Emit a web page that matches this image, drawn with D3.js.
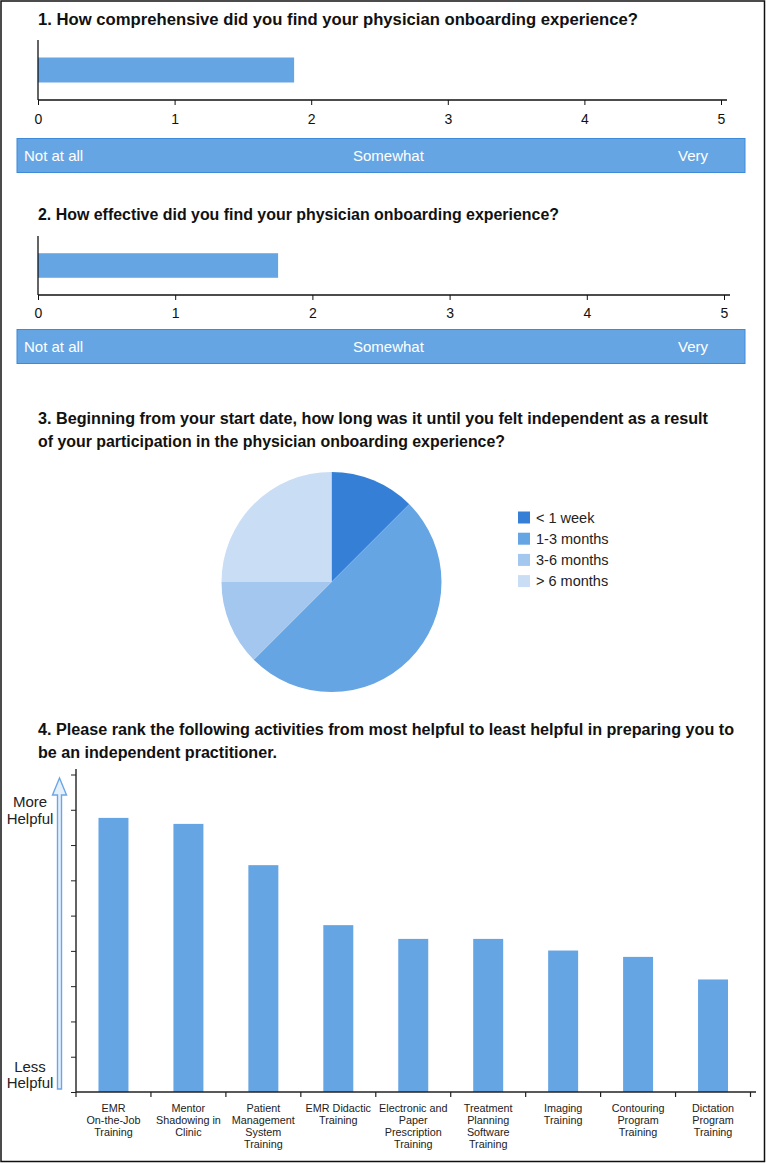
<!DOCTYPE html>
<html><head><meta charset="utf-8">
<script src="https://cdn.jsdelivr.net/npm/d3@7"></script>
<style>
html,body{margin:0;padding:0;background:#fff;}
svg{display:block;}
</style></head>
<body>
<svg id="c" width="766" height="1163"></svg>
<script>
// ---------- DATA ----------
const q1Title = "1. How comprehensive did you find your physician onboarding experience?";
const q1Value = [1.875];
const q2Title = "2. How effective did you find your physician onboarding experience?";
const q2Value = [1.75];
const scaleTicks = [0, 1, 2, 3, 4, 5];
const scaleLabels = ["Not at all", "Somewhat", "Very"];

const q3TitleLines = ["3. Beginning from your start date, how long was it until you felt independent as a result",
                      "of your participation in the physician onboarding experience?"];
const pieCategories = ["< 1 week", "1-3 months", "3-6 months", "> 6 months"];
const pieValues = [1, 4, 1, 2];
const pieColors = ["#3580d6", "#66a5e3", "#a3c7ef", "#c9ddf5"];

const q4TitleLines = ["4. Please rank the following activities from most helpful to least helpful in preparing you to",
                      "be an independent practitioner."];
const activities = [
  ["EMR", "On-the-Job", "Training"],
  ["Mentor", "Shadowing in", "Clinic"],
  ["Patient", "Management", "System", "Training"],
  ["EMR Didactic", "Training"],
  ["Electronic and", "Paper", "Prescription", "Training"],
  ["Treatment", "Planning", "Software", "Training"],
  ["Imaging", "Training"],
  ["Contouring", "Program", "Training"],
  ["Dictation", "Program", "Training"]
];
const activityScores = [7.77, 7.60, 6.43, 4.73, 4.34, 4.34, 4.01, 3.83, 3.19];
const rankTicks = [0, 1, 2, 3, 4, 5, 6, 7, 8, 9];

// ---------- DRAW ----------
const svg = d3.select("#c");
const BAR = "#66a5e3";
const TITLE_FONT = "'Liberation Sans Narrow','Arial Narrow','Liberation Sans',Arial,sans-serif";
const FONT = "'Liberation Sans',Arial,Helvetica,sans-serif";

// frame
svg.append("rect").attr("x", 1).attr("y", 1).attr("width", 763.5).attr("height", 1160.5)
  .attr("fill", "none").attr("stroke", "#111").attr("stroke-width", 1.5);

function title(lines, x, y0, widths, lh) {
  lines.forEach((t, i) => {
    svg.append("text").attr("x", x).attr("y", y0 + i * lh)
      .attr("font-family", TITLE_FONT).attr("font-weight", "bold").attr("font-size", 16)
      .attr("fill", "#111")
      .attr("textLength", widths[i]).attr("lengthAdjust", "spacingAndGlyphs")
      .text(t);
  });
}

function scaleChart(cfg) {
  const x = d3.scaleLinear().domain([0, 5]).range([38, cfg.x5]);
  const y = d3.scaleBand().domain(["v"]).range([cfg.top, cfg.axisY]).padding(0.412);
  const g = svg.append("g");
  g.append("rect").attr("x", x(0)).attr("y", y("v")).attr("width", x(cfg.value[0]) - x(0))
    .attr("height", y.bandwidth()).attr("fill", BAR);
  // vertical axis
  g.append("line").attr("x1", 38).attr("x2", 38).attr("y1", cfg.top).attr("y2", cfg.axisY)
    .attr("stroke", "#111").attr("stroke-width", 1.3);
  const ax = g.append("g").attr("transform", `translate(0,${cfg.axisY})`)
    .call(d3.axisBottom(x).tickValues(scaleTicks).tickFormat(d3.format("d")).tickSize(5).tickSizeOuter(0));
  ax.select(".domain").attr("d", `M38,0H${cfg.x5 + 6}`).attr("stroke", "#111").attr("stroke-width", 1.6);
  ax.selectAll(".tick line").attr("stroke", "#111");
  ax.selectAll(".tick text").attr("font-family", FONT).attr("font-size", 14).attr("fill", "#111")
    .attr("y", cfg.labelY - cfg.axisY).attr("dy", "0.36em");
  // band
  g.append("rect").attr("x", 17).attr("y", cfg.bandY).attr("width", 728).attr("height", 34)
    .attr("fill", BAR).attr("stroke", "#3d8ad9").attr("stroke-width", 1);
  const lx = [24, 353, 678];
  scaleLabels.forEach((t, i) => {
    g.append("text").attr("x", lx[i]).attr("y", cfg.bandY + 17).attr("dy", "0.35em")
      .attr("font-family", FONT).attr("font-size", 15).attr("fill", "#fff").text(t);
  });
}

title([q1Title], 38, 25, [600], 23);
scaleChart({ value: q1Value, top: 40, axisY: 100, x5: 721, labelY: 119, bandY: 138.5 });

title([q2Title], 38, 220, [521], 23);
scaleChart({ value: q2Value, top: 236, axisY: 295, x5: 724, labelY: 313, bandY: 329.5 });

// ---- pie ----
title(q3TitleLines, 38, 424, [670, 467], 23);
const pieG = svg.append("g").attr("transform", "translate(331.5,582)");
const color = d3.scaleOrdinal().domain(pieCategories).range(pieColors);
const pie = d3.pie().sort(null).value(d => d.v);
const arc = d3.arc().innerRadius(0).outerRadius(110);
const pieData = pie(pieCategories.map((c, i) => ({ c, v: pieValues[i] })));
pieG.selectAll("path").data(pieData).join("path")
  .attr("d", arc).attr("fill", d => color(d.data.c));
const legend = svg.append("g");
pieCategories.forEach((c, i) => {
  const cy = 517.5 + i * 21.2;
  legend.append("rect").attr("x", 518).attr("y", cy - 6).attr("width", 12).attr("height", 12).attr("fill", color(c));
  legend.append("text").attr("x", 536).attr("y", cy).attr("dy", "0.35em")
    .attr("font-family", FONT).attr("font-size", 14.5).attr("fill", "#222").text(c);
});

// ---- ranking bar chart ----
title(q4TitleLines, 38, 735, [696, 239], 23);
const x4 = d3.scaleBand().domain(activities.map(a => a.join(" "))).range([76, 750.5]).paddingInner(0.6).paddingOuter(0.3);
const y4 = d3.scaleLinear().domain([0, 9]).range([1092, 774.5]);
const g4 = svg.append("g");
g4.selectAll("rect.bar").data(activityScores).join("rect").attr("class", "bar")
  .attr("x", (d, i) => x4(activities[i].join(" ")))
  .attr("width", x4.bandwidth())
  .attr("y", d => y4(d)).attr("height", d => y4(0) - y4(d)).attr("fill", BAR);
// y axis
const ay = g4.append("g").attr("transform", "translate(76,0)")
  .call(d3.axisLeft(y4).tickValues(rankTicks).tickSize(5).tickSizeOuter(0).tickFormat(""));
ay.select(".domain").attr("d", "M0,769V1092").attr("stroke", "#222").attr("stroke-width", 1.4);
ay.selectAll(".tick line").attr("stroke", "#222");
// x axis with ticks at band boundaries
g4.append("line").attr("x1", 76).attr("x2", 756).attr("y1", 1092).attr("y2", 1092).attr("stroke", "#222").attr("stroke-width", 1.4);
const bx = activities.map((a, i) => x4(a.join(" ")) + x4.bandwidth() / 2 - x4.step() / 2);
bx.push(x4(activities[activities.length - 1].join(" ")) + x4.bandwidth() / 2 + x4.step() / 2);
bx.forEach(v => g4.append("line").attr("x1", v).attr("x2", v).attr("y1", 1092).attr("y2", 1097).attr("stroke", "#222").attr("stroke-width", 1.2));
activities.forEach((lines, i) => {
  const cx = x4(lines.join(" ")) + x4.bandwidth() / 2;
  const t = g4.append("text").attr("text-anchor", "middle").attr("font-family", FONT).attr("font-size", 10.8).attr("fill", "#222");
  lines.forEach((l, j) => t.append("tspan").attr("x", cx).attr("y", 1112 + j * 12).text(l));
});
// arrow
g4.append("path")
  .attr("d", "M59.5,778 L66.5,795 L61.5,795 L61.5,1089 L57.5,1089 L57.5,795 L52.5,795 Z")
  .attr("fill", "#e6f0fb").attr("stroke", "#6aa6e6").attr("stroke-width", 1.4).attr("stroke-linejoin", "miter");
const lab = [["More", 806.5], ["Helpful", 823.5], ["Less", 1071.5], ["Helpful", 1088]];
lab.forEach(([t, y]) => g4.append("text").attr("x", 30).attr("y", y).attr("text-anchor", "middle")
  .attr("font-family", FONT).attr("font-size", 15).attr("fill", "#222").text(t));
</script>
</body></html>
